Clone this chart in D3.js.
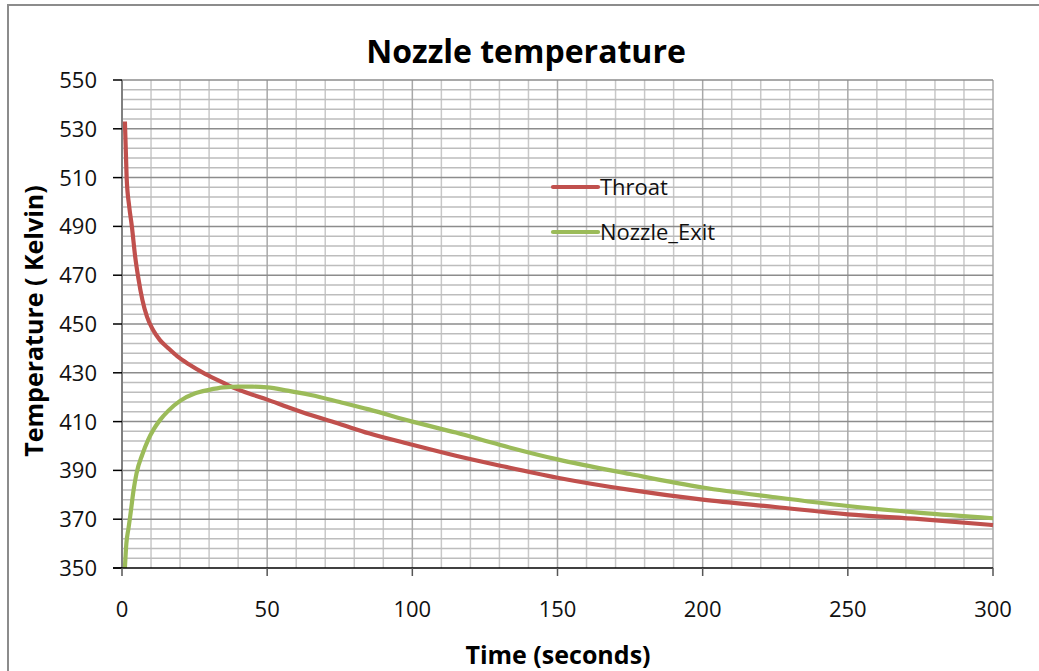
<!DOCTYPE html>
<html>
<head>
<meta charset="utf-8">
<script src="https://cdn.jsdelivr.net/npm/d3@7"></script>
<style>
  body { margin: 0; background: #fff; }
  svg { display: block; font-family: "Open Sans", Lato, sans-serif; }
</style>
</head>
<body>
<div id="chart"></div>
<script>
const width = 1039, height = 671;

// data
const throatTime = [1, 1.6, 2.5, 3.4, 4.5, 5.6, 7, 8.6, 10.7, 13, 16, 19, 23, 28, 33, 39, 45, 50, 57, 65, 75, 85, 100, 115, 130, 150, 175, 200, 225, 250, 275, 300];
const throatTemp = [533, 510, 498, 490, 478, 469, 460, 453, 447.5, 443.5, 440, 436.8, 433.5, 430, 427, 423.6, 421, 419, 416, 412.7, 409, 405.2, 400.5, 396, 392, 387, 382, 378, 375, 372, 370, 367.6];
const exitTime = [1, 1.5, 2.2, 2.8, 4, 5, 7, 9, 11, 13, 16, 20, 25, 30, 35, 40, 45, 50, 57, 65, 75, 85, 100, 115, 130, 150, 175, 200, 225, 250, 275, 300];
const exitTemp = [350, 360, 366, 371, 382, 388.8, 396.5, 402.5, 407, 410.5, 414.5, 418.5, 421.5, 423, 424, 424.3, 424.3, 424, 422.7, 420.9, 418, 415, 410, 405.5, 400.5, 394.5, 388.5, 383, 379, 375.4, 372.6, 370.4];
const seriesNames = ["Throat", "Nozzle_Exit"];
const seriesColors = ["#C0504D", "#9BBB59"];
const xTicks = [0, 50, 100, 150, 200, 250, 300];
const yTicks = [350, 370, 390, 410, 430, 450, 470, 490, 510, 530, 550];

const series = [
  throatTime.map((t, i) => ({ t: t, v: throatTemp[i] })),
  exitTime.map((t, i) => ({ t: t, v: exitTemp[i] }))
];

const margin = { left: 122, right: 46, top: 80, bottom: 103 };

const svg = d3.select("#chart")
  .append("svg")
  .attr("width", width)
  .attr("height", height);

// outer chart frame
svg.append("rect")
  .attr("x", 8).attr("y", 5)
  .attr("width", 1200).attr("height", 800)
  .attr("fill", "none")
  .attr("stroke", "#8c8c8c")
  .attr("stroke-width", 2);

const x = d3.scaleLinear().domain([0, 300]).range([margin.left, width - margin.right]);
const y = d3.scaleLinear().domain([350, 550]).range([height - margin.bottom, margin.top]);

const grid = svg.append("g");

// minor grid
grid.selectAll(".vminor")
  .data(d3.range(10, 300, 10).filter(d => d % 50 !== 0))
  .join("line")
  .attr("x1", d => x(d)).attr("x2", d => x(d))
  .attr("y1", y(350)).attr("y2", y(550))
  .attr("stroke", "#c8c8c8").attr("stroke-width", 1.5);

grid.selectAll(".hminor")
  .data(d3.range(354, 550, 4).filter(d => (d - 350) % 20 !== 0))
  .join("line")
  .attr("x1", x(0)).attr("x2", x(300))
  .attr("y1", d => y(d)).attr("y2", d => y(d))
  .attr("stroke", "#bdbdbd").attr("stroke-width", 1.5);

// major grid
grid.selectAll(".vmajor")
  .data(xTicks.slice(1))
  .join("line")
  .attr("x1", d => x(d)).attr("x2", d => x(d))
  .attr("y1", y(350)).attr("y2", y(550))
  .attr("stroke", "#a8a8a8").attr("stroke-width", 1.5);

grid.selectAll(".hmajor")
  .data(yTicks.slice(1))
  .join("line")
  .attr("x1", x(0)).attr("x2", x(300))
  .attr("y1", d => y(d)).attr("y2", d => y(d))
  .attr("stroke", "#8c8c8c").attr("stroke-width", 1.5);

// left axis
svg.append("line")
  .attr("x1", x(0)).attr("x2", x(0))
  .attr("y1", y(350)).attr("y2", y(550))
  .attr("stroke", "#808080").attr("stroke-width", 2);

svg.append("g")
  .selectAll("line")
  .data(yTicks)
  .join("line")
  .attr("x1", x(0) - 9).attr("x2", x(0))
  .attr("y1", d => y(d)).attr("y2", d => y(d))
  .attr("stroke", "#000").attr("stroke-width", 1.5);

svg.append("g")
  .selectAll("text")
  .data(yTicks)
  .join("text")
  .attr("x", 97)
  .attr("y", d => y(d))
  .attr("dy", "0.36em")
  .attr("text-anchor", "end")
  .attr("font-size", 22)
  .attr("fill", "#111")
  .text(d => d);

// series lines
const line = d3.line()
  .x(d => x(d.t))
  .y(d => y(d.v))
  .curve(d3.curveMonotoneX);

svg.append("g")
  .selectAll("path")
  .data(series)
  .join("path")
  .attr("d", line)
  .attr("fill", "none")
  .attr("stroke", (d, i) => seriesColors[i])
  .attr("stroke-width", 4.2)
  .attr("stroke-linejoin", "round");

// bottom axis
svg.append("line")
  .attr("x1", x(0) - 9).attr("x2", x(300))
  .attr("y1", y(350)).attr("y2", y(350))
  .attr("stroke", "#000").attr("stroke-width", 1.5);

svg.append("g")
  .selectAll("line")
  .data(xTicks)
  .join("line")
  .attr("x1", d => x(d)).attr("x2", d => x(d))
  .attr("y1", y(350)).attr("y2", y(350) + 8)
  .attr("stroke", "#555").attr("stroke-width", 1.5);

svg.append("g")
  .selectAll("text")
  .data(xTicks)
  .join("text")
  .attr("x", d => x(d))
  .attr("y", 617)
  .attr("text-anchor", "middle")
  .attr("font-size", 22)
  .attr("fill", "#111")
  .text(d => d);

// legend
const legend = svg.append("g");
const legendY = [187, 232];
legend.selectAll("line")
  .data(seriesNames)
  .join("line")
  .attr("x1", 553).attr("x2", 598)
  .attr("y1", (d, i) => legendY[i]).attr("y2", (d, i) => legendY[i])
  .attr("stroke", (d, i) => seriesColors[i])
  .attr("stroke-width", 4.2)
  .attr("stroke-linecap", "round");
legend.selectAll("text")
  .data(seriesNames)
  .join("text")
  .attr("x", 600)
  .attr("y", (d, i) => legendY[i])
  .attr("dy", "0.36em")
  .attr("font-size", 22)
  .attr("fill", "#111")
  .text(d => d);

// titles
svg.append("text")
  .attr("x", 526).attr("y", 63)
  .attr("text-anchor", "middle")
  .attr("font-size", 32)
  .attr("font-weight", "bold")
  .text("Nozzle temperature");

svg.append("text")
  .attr("x", 558).attr("y", 664)
  .attr("text-anchor", "middle")
  .attr("font-size", 25)
  .attr("font-weight", "bold")
  .text("Time (seconds)");

svg.append("text")
  .attr("transform", "translate(43,321) rotate(-90)")
  .attr("text-anchor", "middle")
  .attr("font-size", 25)
  .attr("font-weight", "bold")
  .text("Temperature ( Kelvin)");
</script>
</body>
</html>
